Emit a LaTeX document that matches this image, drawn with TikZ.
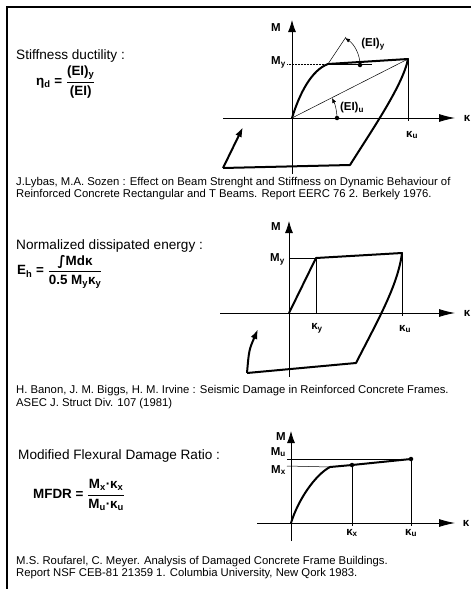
\documentclass[tikz,border=0pt]{standalone}
\usepackage{fontspec}
\setmainfont{Liberation Sans}
\newfontfamily\dejavu{DejaVu Sans}
\usetikzlibrary{arrows.meta}

\begin{document}
\begin{tikzpicture}[x=1pt,y=-1pt,
    ax/.style={line width=0.8pt},
    harrow/.style={-{Latex[length=16pt,width=8pt]}},
    varrow/.style={-{Latex[length=12pt,width=8pt]}},
    hyst/.style={line width=2pt, line join=round},
    guide/.style={line width=0.5pt},
    knot/.style={circle, fill, inner sep=0pt, minimum size=4.5pt},
    lbl/.style={inner sep=0pt, font=\bfseries\fontsize{11.5}{11.5}\selectfont},
    title/.style={anchor=west, inner sep=0pt, font=\fontsize{13.6}{13.6}\selectfont},
    formula/.style={anchor=west, inner sep=0pt, font=\bfseries\fontsize{13.4}{13.4}\selectfont},
    ref/.style={anchor=west, inner sep=0pt, font=\fontsize{11.3}{11.3}\selectfont}]
    \useasboundingbox (0,0) rectangle (471,589);
    % 边框
    \draw[line width=1.2pt] (471,7) -- (7,7) -- (7,589);

    % ---------- 1: Stiffness ductility ----------
    \node[title] (t1) at (16,56) {Stiffness ductility :};
    \node[formula] (f1) at (36,82) {η\textsubscript{d} = $\displaystyle\frac{\mbox{(EI)\textsubscript{y}}}{\mbox{(EI)}}$};
    % 坐标轴
    \coordinate (O1) at (292,118);
    \draw[ax, harrow] (223,118) -- (455,118);
    \draw[ax, varrow] (292,174) -- (292,20);
    \node[lbl] (m1) at (276,28) {M};
    \node[lbl] (k1) at (467,118) {κ};
    % 特征点
    \coordinate (A1) at (328,64);
    \coordinate (B1) at (408,59);
    \coordinate (C1) at (350,165);
    \coordinate (D1) at (223,168);
    \coordinate (E1) at (243,127);
    % 辅助线
    \draw[guide, densely dotted] (287,64) -- (A1);
    \draw[guide] (A1) -- (372,64);
    \draw[guide] (B1) -- (408,121);
    \draw[guide] (O1) -- (B1);
    \draw[guide] (A1) -- (346,37);
    % 滞回曲线
    \draw[hyst] (O1) .. controls (300,92) and (312,70) .. (A1) -- (B1)
        .. controls (403,85) and (372,130) .. (C1) -- (D1);
    \draw[hyst, -{Latex[length=10pt,width=7pt]}] (D1) -- (E1);
    % 刚度角
    \node[knot] (dy) at (360,65) {};
    \node[knot] (du) at (337,118) {};
    \draw[guide, -{Latex[length=5pt,width=4pt]}] (du.center) .. controls (337,111) and (335,104) .. (332,98);
    \draw[guide, -{Latex[length=5pt,width=4pt]}] (dy.center) .. controls (360,54) and (354,44) .. (345,38);
    \node[lbl] (eiy) at (373,44) {(EI)\textsubscript{y}};
    \node[lbl] (eiu) at (352,108) {(EI)\textsubscript{u}};
    \node[lbl, anchor=east] (my1) at (286,62) {M\textsubscript{y}};
    \node[lbl] (ku1) at (412,135) {κ\textsubscript{u}};
    % 文献
    \node[ref] (r1a) at (16,183) {J.Lybas, M.A. Sozen : Effect on Beam Strenght and Stiffness on Dynamic Behaviour of};
    \node[ref] (r1b) at (16,195) {Reinforced Concrete Rectangular and T Beams. Report EERC 76 2. Berkely 1976.};

    % ---------- 2: Normalized dissipated energy ----------
    \node[title] (t2) at (16,246) {Normalized dissipated energy :};
    \node[formula] (f2) at (17,272) {E\textsubscript{h} = $\displaystyle\frac{\mbox{{\dejavu ∫}Mdκ}}{\mbox{0.5 M\textsubscript{y}κ\textsubscript{y}}}$};
    % 坐标轴
    \coordinate (O2) at (289,313);
    \draw[ax, harrow] (220,313) -- (455,313);
    \draw[ax, varrow] (289,377) -- (289,221);
    \node[lbl] (m2) at (276,227) {M};
    \node[lbl] (k2) at (467,313) {κ};
    % 特征点
    \coordinate (Y2) at (316,258);
    \coordinate (U2) at (402,253);
    \coordinate (C2) at (356,363);
    \coordinate (D2) at (247,373);
    \coordinate (E2) at (258,329);
    % 辅助线
    \draw[guide] (289,258) -- (Y2);
    \draw[guide] (Y2) -- (316,313);
    \draw[guide] (U2) -- (402,316);
    % 滞回曲线
    \draw[hyst] (O2) -- (Y2) -- (U2)
        .. controls (398,285) and (378,320) .. (C2) -- (D2);
    \draw[hyst, -{Latex[length=10pt,width=7pt]}] (D2) .. controls (249,350) .. (E2);
    \node[lbl, anchor=east] (my2) at (285,259) {M\textsubscript{y}};
    \node[lbl] (ky2) at (317,328) {κ\textsubscript{y}};
    \node[lbl] (ku2) at (405,329) {κ\textsubscript{u}};
    % 文献
    \node[ref] (r2a) at (16,391) {H. Banon, J. M. Biggs, H. M. Irvine : Seismic Damage in Reinforced Concrete Frames.};
    \node[ref] (r2b) at (16,404) {ASEC J. Struct Div. 107 (1981)};

    % ---------- 3: Modified Flexural Damage Ratio ----------
    \node[title] (t3) at (18,456) {Modified Flexural Damage Ratio :};
    \node[formula] (f3) at (33,495) {MFDR = $\displaystyle\frac{\mbox{M\textsubscript{x}·κ\textsubscript{x}}}{\mbox{M\textsubscript{u}·κ\textsubscript{u}}}$};
    % 坐标轴
    \coordinate (O3) at (291,523);
    \draw[ax, harrow] (257,523) -- (455,523);
    \draw[ax, varrow] (291,541) -- (291,431);
    \node[lbl] (m3) at (281,437) {M};
    \node[lbl] (k3) at (466,523) {κ};
    % 特征点
    \coordinate (K3) at (330,467);
    \coordinate (X3) at (352,465);
    \coordinate (U3) at (411,459);
    % 辅助线
    \draw[guide] (287,459) -- (U3);
    \draw[guide] (287,466) -- (K3);
    \draw[guide] (X3) -- (352,526);
    \draw[guide] (U3) -- (411,526);
    % 骨架曲线
    \draw[hyst] (O3) .. controls (298,500) and (315,475) .. (K3) -- (X3) -- (U3);
    \node[knot] (dx) at (X3) {};
    \node[knot] (du3) at (U3) {};
    \node[lbl, anchor=east] (mu3) at (286,452) {M\textsubscript{u}};
    \node[lbl, anchor=east] (mx3) at (286,470) {M\textsubscript{x}};
    \node[lbl] (kx3) at (352,533) {κ\textsubscript{x}};
    \node[lbl] (ku3) at (411,533) {κ\textsubscript{u}};
    % 文献
    \node[ref] (r3a) at (16,562) {M.S. Roufarel, C. Meyer. Analysis of Damaged Concrete Frame Buildings.};
    \node[ref] (r3b) at (16,574) {Report NSF CEB-81 21359 1. Columbia University, New Qork 1983.};
\end{tikzpicture}
\end{document}
